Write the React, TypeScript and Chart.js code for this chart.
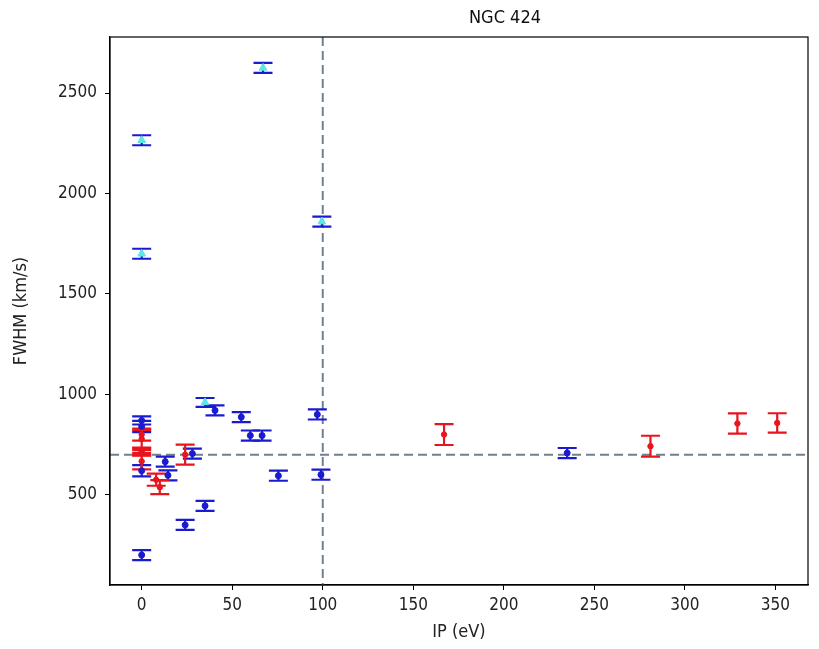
import React, { useEffect, useRef } from "react";
import { Chart, registerables } from "chart.js";

Chart.register(...registerables);

const TITLE = "NGC 424";
const X_LABEL = "IP (eV)";
const Y_LABEL = "FWHM (km/s)";
const X_TICKS = [0, 50, 100, 150, 200, 250, 300, 350];
const Y_TICKS = [500, 1000, 1500, 2000, 2500];

// blue: narrow/optical lines
const blueX = [0, 0, 0, 0, 13, 14.5, 24, 28, 35, 40.5, 55, 60, 66.5, 75.5, 97, 99, 235];
const blueY = [870, 840, 620, 200, 665, 597, 350, 705, 445, 920, 887, 795, 795, 595, 900, 600, 708];
const blueErr = [20, 28, 28, 25, 25, 25, 25, 25, 25, 25, 25, 25, 25, 25, 25, 25, 25];

// cyan: broad components (blue error bars)
const cyanX = [0, 0, 35, 67, 99.5];
const cyanY = [2265, 1700, 960, 2625, 1860];
const cyanErr = [25, 25, 22, 25, 25];

// red: NIR lines
const redX = [0, 0, 0, 0, 0, 8, 10, 24, 167, 281, 329, 351];
const redY = [800, 778, 715, 710, 667, 575, 538, 700, 800, 742, 855, 858];
const redErr = [30, 45, 20, 12, 40, 30, 35, 50, 52, 52, 50, 48];

const H_LINE = 700;
const V_LINE = 100;

const BLUE = "#1a1ad0";
const RED = "#e8141e";
const CYAN = "#5ce6e6";
const GRAY = "#708090";
const FONT = "'DejaVu Sans Condensed', 'DejaVu Sans', sans-serif";

const pts = (xs: number[], ys: number[]) => xs.map((x, i) => ({ x, y: ys[i] }));

export default function App() {
  const ref = useRef<HTMLCanvasElement | null>(null);
  useEffect(() => {
    if (!ref.current) return;
    const errSets = [
      { xs: blueX, ys: blueY, es: blueErr, color: BLUE },
      { xs: cyanX, ys: cyanY, es: cyanErr, color: BLUE },
      { xs: redX, ys: redY, es: redErr, color: RED },
    ];
    const plugin = {
      id: "extras",
      beforeDatasetsDraw(chart: any) {
        const { ctx, chartArea, scales } = chart;
        const xs = scales.x, ys = scales.y;
        ctx.save();
        ctx.beginPath();
        ctx.rect(chartArea.left, chartArea.top, chartArea.right - chartArea.left, chartArea.bottom - chartArea.top);
        ctx.clip();
        ctx.strokeStyle = GRAY;
        ctx.lineWidth = 2;
        ctx.setLineDash([9, 5]);
        const hy = ys.getPixelForValue(H_LINE);
        ctx.beginPath();
        ctx.moveTo(chartArea.left, hy);
        ctx.lineTo(chartArea.right, hy);
        ctx.stroke();
        const vx = xs.getPixelForValue(V_LINE);
        ctx.beginPath();
        ctx.moveTo(vx, chartArea.top);
        ctx.lineTo(vx, chartArea.bottom);
        ctx.stroke();
        ctx.setLineDash([]);
        const cap = 9.5;
        for (const s of errSets) {
          ctx.strokeStyle = s.color;
          ctx.lineWidth = 2.2;
          for (let i = 0; i < s.xs.length; i++) {
            const px = xs.getPixelForValue(s.xs[i]);
            const top = ys.getPixelForValue(s.ys[i] + s.es[i]);
            const bot = ys.getPixelForValue(s.ys[i] - s.es[i]);
            ctx.beginPath();
            ctx.moveTo(px, top);
            ctx.lineTo(px, bot);
            ctx.moveTo(px - cap, top);
            ctx.lineTo(px + cap, top);
            ctx.moveTo(px - cap, bot);
            ctx.lineTo(px + cap, bot);
            ctx.stroke();
          }
        }
        ctx.restore();
      },
      afterDraw(chart: any) {
        const { ctx, chartArea } = chart;
        ctx.save();
        ctx.strokeStyle = "#000";
        ctx.lineWidth = 1.2;
        ctx.strokeRect(chartArea.left, chartArea.top, chartArea.right - chartArea.left, chartArea.bottom - chartArea.top);
        // title, placed as in the reference
        ctx.fillStyle = "#111";
        ctx.font = "18px " + FONT;
        ctx.textAlign = "center";
        ctx.textBaseline = "middle";
        ctx.fillText(TITLE, 505, 18);
        ctx.restore();
      },
    };
    const tickFont = { family: FONT, size: 17 };
    const labelFont = { family: FONT, size: 18 };
    const chart = new Chart(ref.current, {
      type: "scatter",
      data: {
        datasets: [
          { data: pts(blueX, blueY), backgroundColor: BLUE, borderColor: BLUE, pointRadius: 3, pointStyle: "circle" },
          { data: pts(cyanX, cyanY), backgroundColor: CYAN, borderColor: CYAN, pointRadius: 4.5, pointStyle: "triangle" },
          { data: pts(redX, redY), backgroundColor: RED, borderColor: RED, pointRadius: 2.7, pointStyle: "circle" },
        ],
      },
      options: {
        animation: false,
        responsive: true,
        maintainAspectRatio: false,
        layout: { padding: { left: 0, right: 11, top: 37, bottom: 0 } },
        plugins: {
          legend: { display: false },
          tooltip: { enabled: false },
          title: { display: false },
        },
        scales: {
          x: {
            type: "linear",
            min: -17.5,
            max: 368,
            afterFit: (s: any) => { s.height = 64; },
            afterBuildTicks: (s: any) => { s.ticks = X_TICKS.map((v) => ({ value: v })); },
            ticks: { color: "#222", font: tickFont, padding: 5, maxRotation: 0, callback: (v: any) => String(v) },
            grid: { display: true, drawOnChartArea: false, drawTicks: true, tickLength: 5, color: "#000" },
            border: { display: true, color: "#000", width: 1.2 },
            title: { display: true, text: X_LABEL, color: "#222", font: labelFont, padding: { top: 2, bottom: 6 } },
          },
          y: {
            type: "linear",
            min: 51,
            max: 2779,
            afterFit: (s: any) => { s.width = 110; },
            afterBuildTicks: (s: any) => { s.ticks = Y_TICKS.map((v) => ({ value: v })); },
            ticks: { color: "#222", font: tickFont, padding: 8, callback: (v: any) => String(v) },
            grid: { display: true, drawOnChartArea: false, drawTicks: true, tickLength: 5, color: "#000" },
            border: { display: true, color: "#000", width: 1.2 },
            title: { display: true, text: Y_LABEL, color: "#222", font: labelFont, padding: { top: 11, bottom: 0 } },
          },
        },
      },
      plugins: [plugin],
    } as any);
    return () => chart.destroy();
  }, []);
  return (
    <div style={{ position: "absolute", left: 0, top: 0, width: 819, height: 649, background: "#fff" }}>
      <canvas ref={ref} />
    </div>
  );
}
